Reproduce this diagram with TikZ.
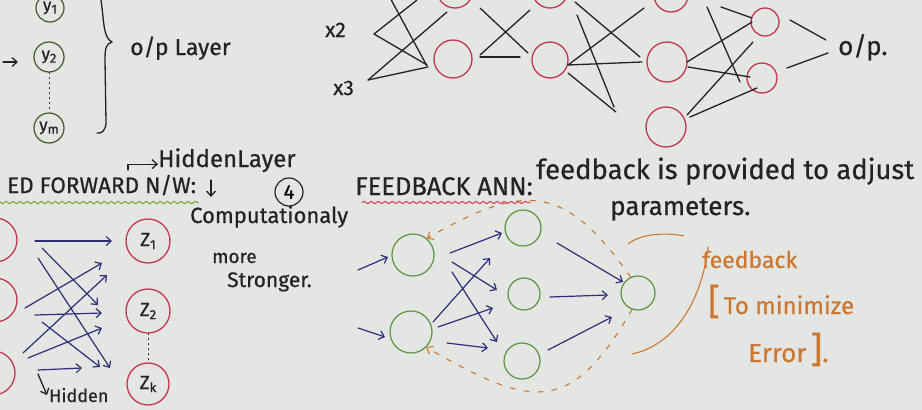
\documentclass[tikz,border=0pt]{standalone}
\usepackage{fontspec}
\setmainfont{Fira Sans}[FakeBold=0.6]
\usepackage{tikz}
\usetikzlibrary{arrows.meta,positioning,calc,decorations.pathmorphing}

\definecolor{paper}{RGB}{228,230,227}
\definecolor{inkblack}{RGB}{35,35,35}
\definecolor{olivedark}{RGB}{70,85,45}
\definecolor{redink}{RGB}{195,55,85}
\definecolor{greenink}{RGB}{95,145,65}
\definecolor{blueink}{RGB}{50,45,120}
\definecolor{orangeink}{RGB}{205,120,50}
\definecolor{limeink}{RGB}{125,170,55}
\definecolor{pinkink}{RGB}{215,70,100}

\newcommand{\handsize}[1]{\fontsize{#1}{#1}\selectfont}
\newcommand{\lowsub}[1]{\raisebox{-3pt}{\handsize{13}#1}}

\begin{document}
\begin{tikzpicture}[x=1pt, y=-1pt, line cap=round, line join=round,
  >={Straight Barb[length=5pt,width=9pt]},
  note/.style={inner sep=0pt, text=inkblack},
  olnode/.style={circle, draw=olivedark, line width=1.2pt, inner sep=0pt, text=inkblack, font=\handsize{17}},
  rednode/.style={circle, draw=redink, line width=1.3pt, inner sep=0pt, text=inkblack, font=\handsize{19}},
  greennode/.style={circle, draw=greenink, line width=1.2pt, inner sep=0pt},
  wire/.style={draw=inkblack, line width=1.3pt},
  ffarrow/.style={->, draw=blueink, line width=1.2pt},
  fbarrow/.style={->, draw=orangeink, line width=1.1pt, dash pattern=on 5pt off 9pt},
  wavy/.style={decorate, decoration={snake, amplitude=1.2pt, segment length=7pt}, line width=1.1pt}]

  % paper
  \useasboundingbox (0,0) rectangle (922,410);
  \clip (0,0) rectangle (922,410);
  \fill[paper] (0,0) rectangle (922,410);

  % output layer, top left
  \node[olnode, minimum size=28pt] (y1) at (50,8) {\raisebox{-3pt}{y\lowsub{1}}};
  \node[olnode, minimum size=30pt] (y2) at (49,57) {y\lowsub{2}};
  \node[olnode, minimum size=30pt] (ym) at (49,128) {y\lowsub{m}};
  \coordinate (y2in) at (3,62);
  \draw[wire, ->] (y2in) -- ([shift={(-31,5)}]y2.center);
  \draw[wire, line width=1pt, dash pattern=on 1pt off 4pt] (y2) -- (ym);

  \draw[wire] (101,0) .. controls (104,20) and (103,38) .. (112,42);
  \draw[wire] (112,42) .. controls (106,44) and (105,48) .. (105,60) -- (106,122)
    .. controls (106,130) and (102,134) .. (97,133);
  \node[note, anchor=base west, font=\handsize{23}] (oplayer) at (130,55) {o/p Layer};

  % network, top right
  \node[note, anchor=base west, font=\handsize{21}] (x2) at (325,37) {x2};
  \node[note, anchor=base west, font=\handsize{21}] (x3) at (333,95) {x3};
  \coordinate (x1p) at (388,-6);
  \coordinate (x2p) at (374,34);
  \coordinate (x3p) at (368,80);

  \node[rednode, minimum size=36pt] (n1a) at (455,-10) {};
  \node[rednode, minimum size=38pt] (n1b) at (453,59) {};
  \node[rednode, minimum size=36pt] (n2a) at (550,-10) {};
  \node[rednode, minimum size=36pt] (n2b) at (550,60) {};
  \node[rednode, minimum size=34pt] (n3a) at (671,-5) {};
  \node[rednode, minimum size=40pt] (n3b) at (667,62) {};
  \node[rednode, minimum size=40pt] (n3c) at (666,127) {};
  \node[rednode, minimum size=28pt] (o1) at (765,22) {};
  \node[rednode, minimum size=30pt] (o2) at (762,78) {};
  \coordinate (op1) at (826,40);
  \coordinate (op2) at (828,53);
  \node[note, anchor=base west, font=\handsize{26}] (op) at (838,55) {o/p.};

  \draw[wire] (x1p) -- ([shift={(-26,7)}]n1b.center);
  \draw[wire] (x2p) -- ([shift={(-38,10)}]n1a.center);
  \draw[wire] (x2p) -- ([shift={(-26,6)}]n1b.center);
  \draw[wire] (x3p) -- ([shift={(-8,22)}]n1a.center);
  \draw[wire] (x3p) -- ([shift={(-25,8)}]n1b.center);

  \draw[wire] ([shift={(27,-2)}]n1b.center) -- ([shift={(-30,-3)}]n2b.center);
  \draw[wire] ([shift={(27,-4)}]n1b.center) -- ([shift={(-20,20)}]n2a.center);
  \draw[wire] ([shift={(25,18)}]n1a.center) -- ([shift={(-22,-7)}]n2b.center);

  \draw[wire] ([shift={(18,5)}]n2b.center) -- ([shift={(-27,13)}]n3a.center);
  \draw[wire] ([shift={(18,5)}]n2b.center) -- ([shift={(-25,0)}]n3b.center);
  \draw[wire] ([shift={(18,13)}]n2b.center) -- ([shift={(-50,-15)}]n3c.center);
  \draw[wire] ([shift={(27,25)}]n2a.center) -- ([shift={(-52,-20)}]n3c.center);
  \draw[wire] ([shift={(25,12)}]n2a.center) -- ([shift={(-27,-5)}]n3b.center);

  \draw[wire] ([shift={(20,0)}]n3b.center) -- ([shift={(-13,0)}]o1.center);
  \draw[wire] ([shift={(21,5)}]n3b.center) -- ([shift={(-12,-1)}]o2.center);
  \draw[wire] ([shift={(21,-12)}]n3c.center) -- ([shift={(-12,20)}]o1.center);
  \draw[wire] ([shift={(24,-10)}]n3c.center) -- ([shift={(-5,10)}]o2.center);
  \draw[wire] ([shift={(36,12)}]n3a.center) -- ([shift={(-22,4)}]o2.center);
  \draw[wire] ([shift={(50,12)}]n3a.center) -- ([shift={(-13,-4)}]o1.center);

  \draw[wire] ([shift={(25,-2)}]o1.center) -- (op1);
  \draw[wire] ([shift={(25,-10)}]o2.center) -- (op2);

  % middle row of notes
  \node[note, anchor=base west, font=\handsize{24}] (hiddenlayer) at (158,167) {HiddenLayer};
  \coordinate (hlhook) at (128,170);
  \draw[wire, ->] (hlhook) |- ([yshift=-4]hiddenlayer.west);
  \coordinate (down1) at (211,180);
  \coordinate (down2) at (211,197);
  \draw[wire, ->] (down1) -- (down2);

  \node[note, anchor=base west, font=\handsize{22.5}] (fftitle) at (7,193) {ED FORWARD N/W:};
  \draw[wavy, draw=limeink] ([shift={(-10,7)}]fftitle.south west) -- ([shift={(2,7)}]fftitle.south east);

  \node[circle, draw=inkblack, line width=1.2pt, minimum size=28pt, inner sep=0pt,
        font=\handsize{20}] (four) at (289,192) {4};
  \node[note, anchor=base west, font=\handsize{25.5}] (fbtitle) at (355,195) {FEEDBACK ANN:};
  \draw[wavy, draw=pinkink] ([shift={(7,7)}]fbtitle.south west) -- ([shift={(-3,7)}]fbtitle.south east);
  \node[note, anchor=base west, font=\handsize{27.5}] (fbtext) at (536,179) {feedback is provided to adjust};
  \node[note, anchor=base west, font=\handsize{26}] (params) at (610,215) {parameters.};

  \node[note, anchor=base west, font=\handsize{22}] (comp) at (190,223) {Computationaly};
  \node[note, anchor=base west, font=\handsize{19}] (more) at (212,263) {more};
  \node[note, anchor=base west, font=\handsize{21}] (stronger) at (227,287) {Stronger.};

  % feed forward network, bottom left
  \node[rednode, minimum size=44pt] (L1) at (-5,240) {};
  \node[rednode, minimum size=44pt] (L2) at (-5,300) {};
  \node[rednode, minimum size=44pt] (L3) at (-7,373) {};
  \node[rednode, minimum size=44pt] (Z1) at (148,241) {Z\lowsub{1}};
  \node[rednode, minimum size=44pt] (Z2) at (148,311) {Z\lowsub{2}};
  \node[rednode, minimum size=42pt] (Zk) at (148,384) {Z\lowsub{k}};
  \draw[wire, line width=1pt, dash pattern=on 1pt off 4pt] (Z2) -- (Zk);

  \draw[ffarrow] ([shift={(40,1)}]L1.center) -- ([shift={(-36,0)}]Z1.center);
  \draw[ffarrow] ([shift={(47,8)}]L1.center) -- ([shift={(-50,-6)}]Z2.center);
  \draw[ffarrow] ([shift={(43,18)}]L1.center) -- ([shift={(-38,-16)}]Zk.center);
  \draw[ffarrow] ([shift={(30,8)}]L2.center) -- ([shift={(-46,22)}]Z1.center);
  \draw[ffarrow] ([shift={(40,15)}]L2.center) -- ([shift={(-46,2)}]Z2.center);
  \draw[ffarrow] ([shift={(47,22)}]L2.center) -- ([shift={(-48,-17)}]Zk.center);
  \draw[ffarrow] ([shift={(30,-20)}]L3.center) -- ([shift={(-41,34)}]Z1.center);
  \draw[ffarrow] ([shift={(35,-15)}]L3.center) -- ([shift={(-46,17)}]Z2.center);
  \draw[ffarrow] ([shift={(45,-3)}]L3.center) -- ([shift={(-66,-16)}]Zk.center);

  \node[note, anchor=base west, font=\handsize{18}] (hidden) at (49,402) {Hidden};
  \coordinate (hidhook) at (38,374);
  \draw[wire, ->] (hidhook) -- ([xshift=-2]hidden.west);

  % feedback network
  \node[greennode, minimum size=42pt] (I1) at (413,255) {};
  \node[greennode, minimum size=42pt] (I2) at (411,332) {};
  \node[greennode, minimum size=36pt] (H1) at (523,228) {};
  \node[greennode, minimum size=32pt] (H2) at (524,294) {};
  \node[greennode, minimum size=36pt] (H3) at (522,361) {};
  \node[greennode, minimum size=34pt] (O) at (638,293) {};
  \coordinate (in1) at (358,270);
  \coordinate (in2) at (358,328);

  \draw[ffarrow] (in1) -- ([shift={(-25,2)}]I1.center);
  \draw[ffarrow] (in2) -- ([shift={(-26,5)}]I2.center);
  \draw[ffarrow] ([shift={(37,-2)}]I1.center) -- ([shift={(-21,5)}]H1.center);
  \draw[ffarrow] ([shift={(39,7)}]I1.center) -- ([shift={(-27,-4)}]H2.center);
  \draw[ffarrow] ([shift={(39,17)}]I1.center) -- ([shift={(-25,-19)}]H3.center);
  \draw[ffarrow] ([shift={(22,-10)}]I2.center) -- ([shift={(-33,30)}]H1.center);
  \draw[ffarrow] ([shift={(27,-5)}]I2.center) -- ([shift={(-31,14)}]H2.center);
  \draw[ffarrow] ([shift={(36,11)}]I2.center) -- ([shift={(-34,-13)}]H3.center);
  \draw[ffarrow] ([shift={(34,15)}]H1.center) -- ([shift={(-15,-11)}]O.center);
  \draw[ffarrow] ([shift={(26,3)}]H2.center) -- ([shift={(-30,2)}]O.center);
  \draw[ffarrow] ([shift={(26,-11)}]H3.center) -- ([shift={(-26,24)}]O.center);

  \draw[fbarrow] (O.115) to[out=125, in=30, looseness=1.4] (I1.50);
  \draw[fbarrow] (O.-110) to[out=-120, in=-30, looseness=1.5] (I2.-45);

  % feedback note
  \draw[draw=orangeink, line width=1.1pt] (628,244) .. controls (640,234) and (665,232) .. (684,236);
  \draw[draw=orangeink, line width=1.1pt] (708,247) .. controls (702,300) and (675,345) .. (632,354);
  \node[note, text=orangeink, anchor=base west, font=\handsize{23}] (fbnote) at (702,268) {feedback};
  \node[note, text=orangeink, anchor=base west, font=\handsize{24}] (minimize) at (708,314)
    {{\handsize{36}[}\,To minimize};
  \node[note, text=orangeink, anchor=base west, font=\handsize{26}] (error) at (748,362)
    {Error\,{\handsize{36}]}.};
\end{tikzpicture}
\end{document}
